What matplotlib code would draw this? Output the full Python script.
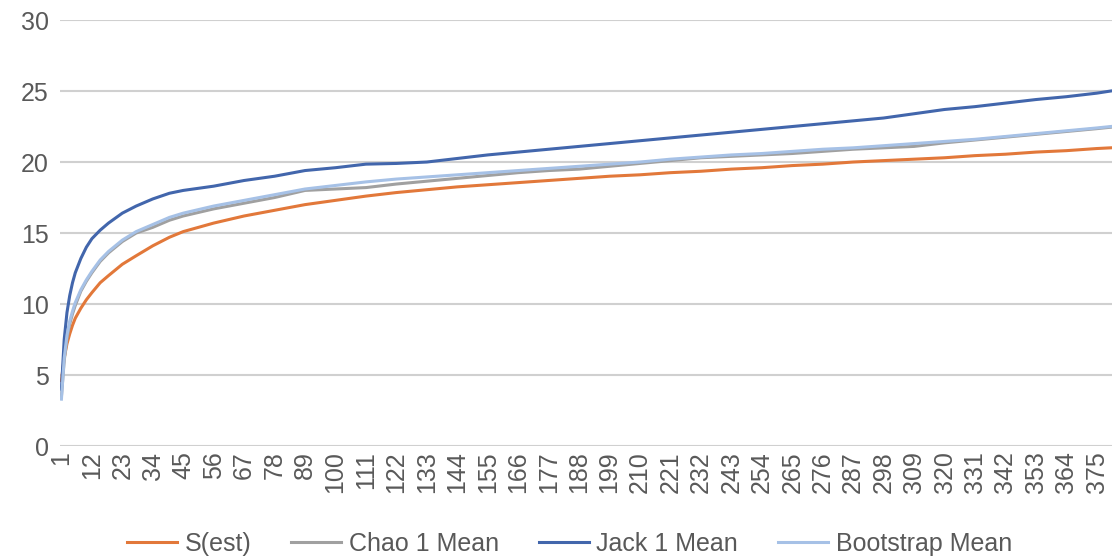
import matplotlib.pyplot as plt

# sample counts where the curves were read
samples = [1, 2, 3, 4, 5, 6, 8, 10, 12, 15, 18, 23, 28, 34, 40, 45, 56, 67, 78, 89,
           100, 111, 122, 133, 144, 155, 166, 177, 188, 199, 210, 221, 232, 243,
           254, 265, 276, 287, 298, 309, 320, 331, 342, 353, 364, 375, 380]

s_est = [4.6, 6.2, 7.2, 7.9, 8.5, 9.0, 9.7, 10.3, 10.8, 11.5, 12.0, 12.8, 13.4, 14.1,
         14.7, 15.1, 15.7, 16.2, 16.6, 17.0, 17.3, 17.6, 17.85, 18.05, 18.25, 18.4,
         18.55, 18.7, 18.85, 19.0, 19.1, 19.25, 19.35, 19.5, 19.6, 19.75, 19.85, 20.0,
         20.1, 20.2, 20.3, 20.45, 20.55, 20.7, 20.8, 20.95, 21.0]

chao1 = [3.5, 6.0, 7.6, 8.6, 9.3, 9.9, 10.9, 11.6, 12.2, 13.0, 13.6, 14.4, 15.0, 15.4,
         15.9, 16.2, 16.7, 17.1, 17.5, 18.0, 18.1, 18.2, 18.45, 18.65, 18.85, 19.05,
         19.25, 19.4, 19.5, 19.7, 19.9, 20.1, 20.3, 20.4, 20.5, 20.6, 20.75, 20.9,
         21.0, 21.1, 21.35, 21.55, 21.75, 21.95, 22.15, 22.35, 22.45]

jack1 = [4.0, 7.5, 9.4, 10.6, 11.5, 12.2, 13.2, 14.0, 14.6, 15.2, 15.7, 16.4, 16.9, 17.4,
         17.8, 18.0, 18.3, 18.7, 19.0, 19.4, 19.6, 19.85, 19.9, 20.0, 20.25, 20.5,
         20.7, 20.9, 21.1, 21.3, 21.5, 21.7, 21.9, 22.1, 22.3, 22.5, 22.7, 22.9,
         23.1, 23.4, 23.7, 23.9, 24.15, 24.4, 24.6, 24.85, 25.0]

bootstrap = [3.3, 6.2, 7.8, 8.8, 9.5, 10.1, 11.0, 11.7, 12.3, 13.1, 13.7, 14.5, 15.1, 15.6,
             16.1, 16.4, 16.9, 17.3, 17.7, 18.1, 18.35, 18.6, 18.8, 18.95, 19.1, 19.25,
             19.4, 19.55, 19.7, 19.85, 20.0, 20.2, 20.35, 20.5, 20.6, 20.75, 20.9, 21.0,
             21.15, 21.3, 21.45, 21.6, 21.8, 22.0, 22.2, 22.4, 22.5]

x_ticks = list(range(1, 381, 11))
y_ticks = [0, 5, 10, 15, 20, 25, 30]

plt.rcParams['font.family'] = ['Liberation Sans', 'DejaVu Sans']
text_col = '#595959'

fig = plt.figure(figsize=(11.12, 5.58), dpi=100)
ax = fig.add_axes([0.054, 0.2007, 0.946, 0.7634])

ax.plot(samples, s_est, color='#E2783A', lw=2.2, label='S(est)')
ax.plot(samples, chao1, color='#A0A0A0', lw=2.2, label='Chao 1 Mean')
ax.plot(samples, jack1, color='#4266AC', lw=2.2, label='Jack 1 Mean')
ax.plot(samples, bootstrap, color='#A6C1E6', lw=2.2, label='Bootstrap Mean')

ax.set_xlim(0.5, 380.5)
ax.set_ylim(0, 30)
ax.set_yticks(y_ticks)
ax.set_xticks(x_ticks)
ax.set_xticklabels([str(t) for t in x_ticks], rotation=90)
ax.grid(axis='y', color='#D0D0D0', lw=1.5)
ax.set_axisbelow(True)
for s in ['top', 'right', 'left', 'bottom']:
    ax.spines[s].set_visible(False)
ax.tick_params(axis='both', length=0, labelsize=18, colors=text_col)
ax.tick_params(axis='y', pad=8)
ax.tick_params(axis='x', pad=4)

fig.legend(loc='center', bbox_to_anchor=(0.512, 0.025), ncol=4, frameon=False,
           fontsize=18, handlelength=2.0, handletextpad=0.3, columnspacing=1.6,
           labelcolor=text_col)

fig.savefig('out.png', dpi=100)
